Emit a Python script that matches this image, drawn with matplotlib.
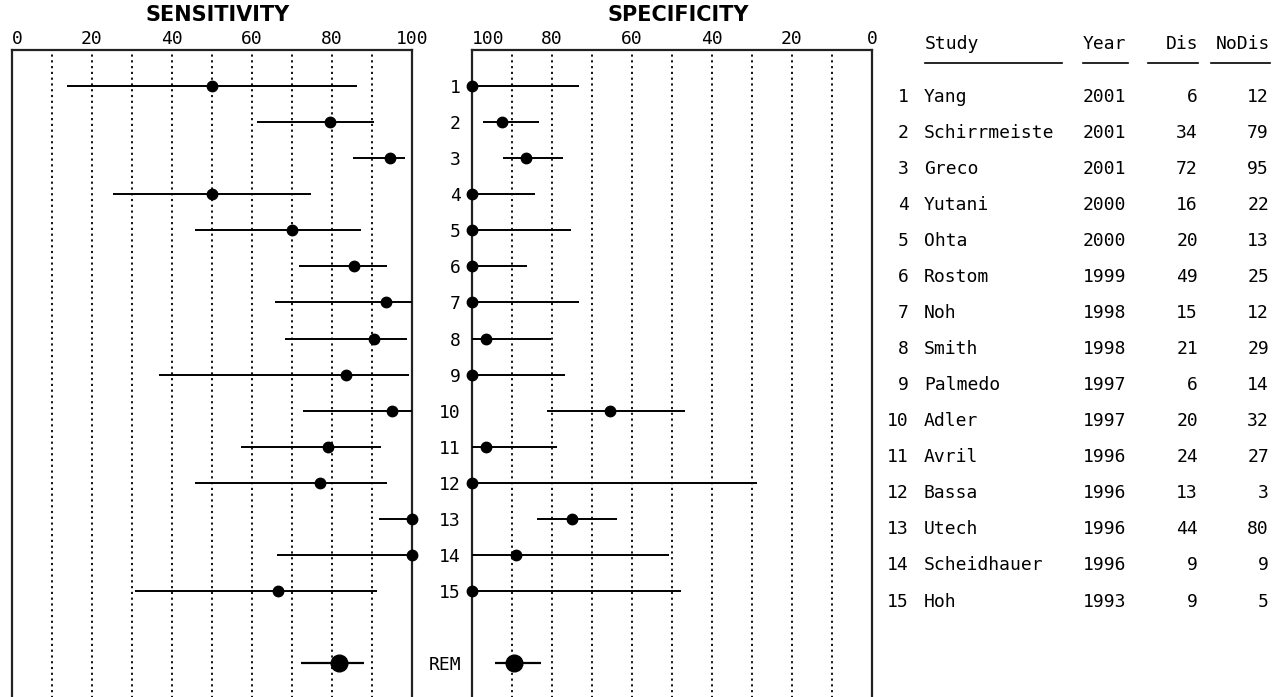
import numpy as np
import matplotlib
matplotlib.use("Agg")
import matplotlib.pyplot as plt

# ---------------- data ----------------
studies = ['Yang', 'Schirrmeiste', 'Greco', 'Yutani', 'Ohta', 'Rostom', 'Noh', 'Smith',
           'Palmedo', 'Adler', 'Avril', 'Bassa', 'Utech', 'Scheidhauer', 'Hoh']
years = [2001, 2001, 2001, 2000, 2000, 1999, 1998, 1998, 1997, 1997, 1996, 1996, 1996, 1996, 1993]
dis = [6, 34, 72, 16, 20, 49, 15, 21, 6, 20, 24, 13, 44, 9, 9]
nodis = [12, 79, 95, 22, 13, 25, 12, 29, 14, 32, 27, 3, 80, 9, 5]

sens = [50, 79.5, 94.5, 50, 70, 85.5, 93.5, 90.5, 83.5, 95, 79, 77, 100, 100, 66.5]
sens_lo = [13.8, 61.3, 85.3, 25.3, 45.8, 71.8, 65.8, 68.3, 36.8, 72.8, 57.3, 45.8, 91.8, 66.3, 30.8]
sens_hi = [86.2, 90.6, 98.2, 74.7, 87.2, 93.7, 100, 98.7, 99.2, 100, 92.2, 93.7, 100, 100, 91.2]

spec = [100, 92.6, 86.5, 100, 100, 100, 100, 96.5, 100, 65.5, 96.5, 100, 75, 89, 100]
spec_lo = [73.3, 83.3, 77.3, 84.3, 75.3, 86.3, 73.3, 80.3, 76.8, 46.8, 78.8, 28.8, 63.8, 50.8, 47.8]
spec_hi = [100, 97.2, 92.2, 100, 100, 100, 100, 100, 100, 81.2, 100, 100, 83.7, 100, 100]

rem_sens, rem_sens_lo, rem_sens_hi = 81.7, 72.3, 88.1
rem_spec, rem_spec_lo, rem_spec_hi = 89.6, 82.8, 94.3

tick_vals = [0, 20, 40, 60, 80, 100]
grid_vals = [10, 20, 30, 40, 50, 60, 70, 80, 90]

# ---------------- layout ----------------
W, H = 1274, 697
ROW = 36.07
TOP = 50
YMAX = 19.5
rows = np.arange(1, len(studies) + 1)
rem_row = len(studies) + 2

fig = plt.figure(figsize=(W / 100, H / 100), dpi=100)
fig.patch.set_facecolor('white')

ax_h = YMAX * ROW
ax_bottom = (H - TOP - ax_h) / H


def make_axes(x0, x1):
    return fig.add_axes([x0 / W, ax_bottom, (x1 - x0) / W, ax_h / H])


mono = 'DejaVu Sans Mono'
lw_frame = 1.6
fs = 13

ax_sens = make_axes(12, 412)
ax_spec = make_axes(472, 872)

for ax, rev in ((ax_sens, False), (ax_spec, True)):
    ax.set_xlim((100, 0) if rev else (0, 100))
    ax.set_ylim(YMAX, 0)
    for g in grid_vals:
        ax.axvline(g, color='black', lw=1.3, ls=(0, (1.2, 2.0)), zorder=1)
    ax.xaxis.tick_top()
    ax.set_xticks(tick_vals)
    ax.set_xticklabels([str(v) for v in tick_vals])
    ax.tick_params(axis='x', length=0, pad=1.5, labelsize=fs)
    for lab in ax.get_xticklabels():
        lab.set_fontfamily(mono)
    ax.spines['bottom'].set_visible(False)
    for s in ('top', 'left', 'right'):
        ax.spines[s].set_linewidth(lw_frame)
        ax.spines[s].set_color('#222222')

# end labels nudged like the reference
sl = ax_sens.get_xticklabels()
sl[0].set_horizontalalignment('left')
pl = ax_spec.get_xticklabels()
pl[-1].set_horizontalalignment('left')

# sensitivity panel
ax_sens.set_yticks([])
ax_sens.hlines(rows, sens_lo, sens_hi, color='black', lw=1.4, zorder=3)
ax_sens.plot(sens, rows, 'o', color='black', ms=7.5, clip_on=False, zorder=4)
ax_sens.hlines([rem_row], [rem_sens_lo], [rem_sens_hi], color='black', lw=1.6, zorder=3)
ax_sens.plot([rem_sens], [rem_row], 'o', color='black', ms=12, clip_on=False, zorder=4)

# specificity panel
ax_spec.set_yticks(list(rows) + [rem_row])
ax_spec.set_yticklabels([str(r) for r in rows] + ['REM'])
ax_spec.tick_params(axis='y', length=0, pad=8, labelsize=fs)
for lab in ax_spec.get_yticklabels():
    lab.set_fontfamily(mono)
ax_spec.hlines(rows, spec_lo, spec_hi, color='black', lw=1.4, zorder=3)
ax_spec.plot(spec, rows, 'o', color='black', ms=7.5, clip_on=False, zorder=4)
ax_spec.hlines([rem_row], [rem_spec_lo], [rem_spec_hi], color='black', lw=1.6, zorder=3)
ax_spec.plot([rem_spec], [rem_row], 'o', color='black', ms=12, clip_on=False, zorder=4)

# titles
fig.text(218 / W, 1 - 15 / H, 'SENSITIVITY', ha='center', va='center',
         fontsize=15, fontweight='bold', family='DejaVu Sans')
fig.text(678 / W, 1 - 15 / H, 'SPECIFICITY', ha='center', va='center',
         fontsize=15, fontweight='bold', family='DejaVu Sans')

# ---------------- table ----------------
ax_t = fig.add_axes([880 / W, 0, (W - 880) / W, 1])
ax_t.set_xlim(880, W)
ax_t.set_ylim((H - TOP) / ROW, -TOP / ROW)
ax_t.axis('off')

off = 0.29
hdr_y = (44 - TOP) / ROW
ul_y = (63 - TOP) / ROW
ax_t.text(925, hdr_y, 'Study', ha='left', va='center', fontsize=fs, family=mono)
ax_t.text(1083, hdr_y, 'Year', ha='left', va='center', fontsize=fs, family=mono)
ax_t.text(1198, hdr_y, 'Dis', ha='right', va='center', fontsize=fs, family=mono)
ax_t.text(1270, hdr_y, 'NoDis', ha='right', va='center', fontsize=fs, family=mono)
for x0, x1 in ((925, 1062), (1083, 1128), (1148, 1198), (1211, 1270)):
    ax_t.plot([x0, x1], [ul_y, ul_y], color='black', lw=1.2)

for r, name, yr, d, nd in zip(rows, studies, years, dis, nodis):
    y = r + off
    ax_t.text(909, y, str(r), ha='right', va='center', fontsize=fs, family=mono)
    ax_t.text(924, y, name, ha='left', va='center', fontsize=fs, family=mono)
    ax_t.text(1083, y, str(yr), ha='left', va='center', fontsize=fs, family=mono)
    ax_t.text(1198, y, str(d), ha='right', va='center', fontsize=fs, family=mono)
    ax_t.text(1269, y, str(nd), ha='right', va='center', fontsize=fs, family=mono)

fig.savefig('out.png', dpi=100)
